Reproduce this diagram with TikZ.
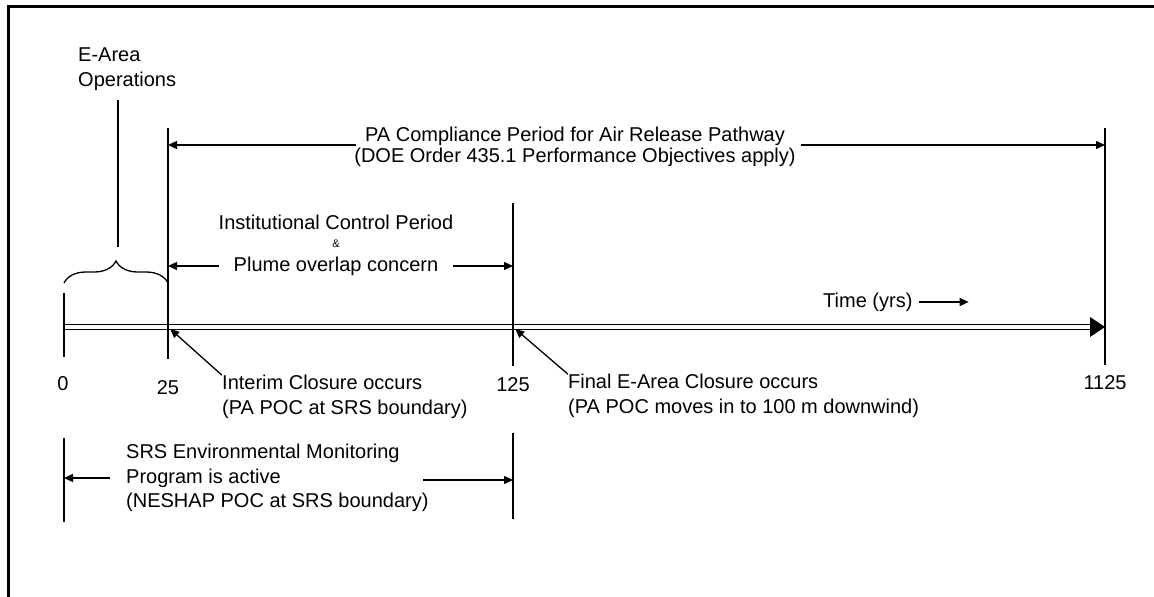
\documentclass[tikz,border=0pt]{standalone}
\usepackage{fontspec}
\setmainfont{Liberation Sans}
\usetikzlibrary{arrows.meta,decorations.pathreplacing}
\begin{document}
\begin{tikzpicture}[x=1pt,y=-1pt,
  every node/.style={font=\fontsize{20}{24.5}\selectfont, inner sep=0pt},
  ln/.style={line width=1.3pt},
  arr/.style={ln,-{Triangle[length=9pt,width=8pt]}},
  amp/.style={font=\fontsize{11}{13}\selectfont},
  tight/.style={font=\fontsize{20}{21}\selectfont}]
\useasboundingbox (0,0) rectangle (1154,597);
% frame (open at right and bottom)
\draw[line width=3pt] (8.5,597) -- (8.5,6.5) -- (1154,6.5);
% timeline points
\coordinate (t0) at (64,327);
\coordinate (t25) at (168,327);
\coordinate (t125) at (513,327);
\coordinate (t1125) at (1105,327);
\coordinate (tend) at (1090,327);
% timeline (double line with filled head)
\draw[ln] ([yshift=2.5pt]t0) -- ([yshift=2.5pt]tend);
\draw[ln] ([yshift=-2.5pt]t0) -- ([yshift=-2.5pt]tend);
\fill (t1125) -- ([yshift=10pt]tend) -- ([yshift=-10pt]tend) -- cycle;
% ticks
\draw[ln] (64,293) -- (64,357);
\draw[ln] (168,128) -- (168,359);
\draw[ln] (513,203) -- (513,366);
\draw[ln] (1105,128) -- (1105,365);
\draw[ln] (64,438) -- (64,522);
\draw[ln] (513,433) -- (513,519);
% E-Area operations with brace
\node[align=left, anchor=west] (ops) at (78,69) {E-Area\\Operations};
\coordinate (bt) at (118,261);
\draw[ln, decorate, decoration={brace, amplitude=22pt}] (64,283) -- (168,283);
\draw[ln, shorten <=10pt, shorten >=14pt] (ops.south -| bt) -- (bt);
% PA compliance
\node[tight, align=center] (pa) at (575,147) {PA Compliance Period for Air Release Pathway\\(DOE Order 435.1 Performance Objectives apply)};
\coordinate (paL) at (356,145);
\coordinate (paR) at (801,145);
\draw[arr] (paL) -- (paL -| t25);
\draw[arr] (paR) -- (paR -| t1125);
% Institutional control
\node (inst) at (336,222) {Institutional Control Period};
\node[amp] (and) at (336,244) {\&};
\node[inner xsep=15pt] (plume) at (336,266) {Plume overlap concern};
\draw[arr] (plume.west) -- (plume.west -| t25);
\draw[arr] (plume.east) -- (plume.east -| t125);
% time label
\node[anchor=west] (time) at (823,302) {Time (yrs)};
\draw[arr] ([xshift=6pt]time.east) -- ++(50,0);
% numbers
\node (n0) at (63,384) {0};
\node (n25) at (168,388) {25};
\node (n125) at (513,385) {125};
\node (n1125) at (1105,383) {1125};
% closure labels
\node[align=left, anchor=west] (interim) at (222,397) {Interim Closure occurs\\(PA POC at SRS boundary)};
\node[align=left, anchor=west] (final) at (568,396) {Final E-Area Closure occurs\\(PA POC moves in to 100 m downwind)};
\draw[arr, shorten >=3pt] (interim.north west) -- (t25);
\draw[arr, shorten >=3pt] (final.north west) -- (t125);
% monitoring program
\node[align=left, anchor=west] (srs) at (126,478) {SRS Environmental Monitoring\\Program is active\\(NESHAP POC at SRS boundary)};
\coordinate (srsL) at (110,478);
\coordinate (srsR) at (423,480);
\draw[arr] (srsL) -- (srsL -| t0);
\draw[arr] (srsR) -- (srsR -| t125);
\end{tikzpicture}
\end{document}
